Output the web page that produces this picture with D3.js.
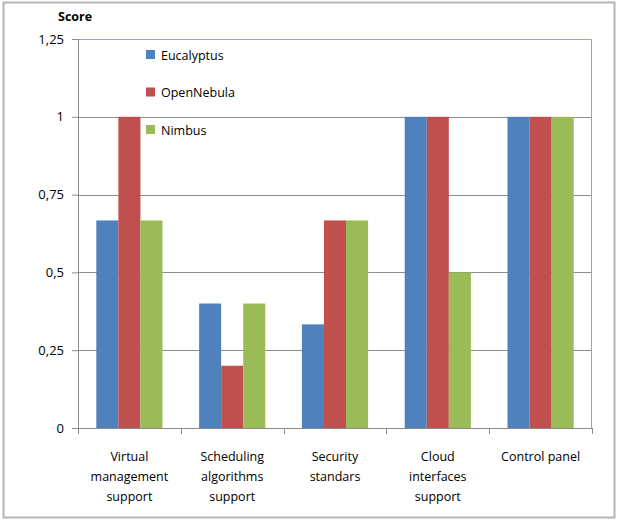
<!DOCTYPE html>
<html>
<head>
<meta charset="utf-8">
<script src="https://cdn.jsdelivr.net/npm/d3@7"></script>
<style>
  body { margin: 0; background: #fff; }
  svg text { font-family: "Open Sans", "DejaVu Sans", sans-serif; fill: #000; }
</style>
</head>
<body>
<svg id="chart" width="618" height="522"></svg>
<script>
// chart data
const categories = [
  ["Virtual", "management", "support"],
  ["Scheduling", "algorithms", "support"],
  ["Security", "standars"],
  ["Cloud", "interfaces", "support"],
  ["Control panel"]
];
const seriesNames = ["Eucalyptus", "OpenNebula", "Nimbus"];
const eucalyptus = [0.667, 0.4, 0.333, 1, 1];
const openNebula = [1, 0.2, 0.667, 1, 1];
const nimbus = [0.667, 0.4, 0.667, 0.5, 1];
const yTicks = [0, 0.25, 0.5, 0.75, 1, 1.25];
const yTickLabels = ["0", "0,25", "0,5", "0,75", "1", "1,25"];

const colors = ["#4F81BD", "#C0504D", "#9BBB59"];
const series = [eucalyptus, openNebula, nimbus];

const svg = d3.select("#chart");
const margin = { left: 78, right: 26, top: 39, bottom: 94 };
const width = 618 - margin.left - margin.right;
const height = 522 - margin.top - margin.bottom;

// outer frame
svg.append("rect")
  .attr("x", 3.5).attr("y", 2.5)
  .attr("width", 611).attr("height", 515)
  .attr("fill", "none").attr("stroke", "#b4b4b4").attr("stroke-width", 2);

const g = svg.append("g").attr("transform", `translate(${margin.left},${margin.top})`);

const x0 = d3.scaleBand().domain(d3.range(categories.length)).range([0, width]).paddingInner(0).paddingOuter(0);
const x1 = d3.scaleBand().domain(d3.range(series.length)).range([0, x0.bandwidth()]).paddingInner(0).paddingOuter(0.83);
const y = d3.scaleLinear().domain([0, 1.25]).range([height, 0]);

// gridlines
g.selectAll(".grid")
  .data(yTicks.filter(t => t > 0 && t < 1.25))
  .join("line")
  .attr("x1", 0).attr("x2", width)
  .attr("y1", d => Math.round(y(d)) + 0.5).attr("y2", d => Math.round(y(d)) + 0.5)
  .attr("stroke", "#8c8c8c").attr("stroke-width", 1);

// plot area border (top and right)
g.append("path")
  .attr("d", `M0,0.5H${width - 0.5}V${height}`)
  .attr("fill", "none").attr("stroke", "#8ea6c4").attr("stroke-width", 1);

// bars
series.forEach((vals, si) => {
  g.selectAll(".bar-" + si)
    .data(vals)
    .join("rect")
    .attr("x", (d, i) => x0(i) + x1(si))
    .attr("y", d => y(d))
    .attr("width", x1.bandwidth())
    .attr("height", d => y(0) - y(d))
    .attr("fill", colors[si]);
});

// y axis
const yAxis = g.append("g")
  .call(d3.axisLeft(y).tickValues(yTicks).tickSize(6).tickFormat((d, i) => yTickLabels[i]));
yAxis.select(".domain").attr("stroke", "#8c8c8c");
yAxis.selectAll(".tick line").attr("stroke", "#8c8c8c");
yAxis.selectAll("text").attr("x", -14).style("font-size", "13px").attr("fill", "#000");

// x axis with ticks at category boundaries
const xAxisG = g.append("g").attr("transform", `translate(0,${height})`);
xAxisG.append("line")
  .attr("x1", -6).attr("x2", width).attr("y1", 0.5).attr("y2", 0.5)
  .attr("stroke", "#8c8c8c");
xAxisG.selectAll(".xt")
  .data(d3.range(categories.length + 1))
  .join("line")
  .attr("x1", d => Math.round(d * x0.step()) + 0.5)
  .attr("x2", d => Math.round(d * x0.step()) + 0.5)
  .attr("y1", 0).attr("y2", 6)
  .attr("stroke", "#8c8c8c");

categories.forEach((lines, i) => {
  const t = xAxisG.append("text")
    .attr("text-anchor", "middle")
    .attr("x", x0(i) + x0.bandwidth() / 2)
    .attr("y", 33)
    .style("font-size", "12.5px");
  lines.forEach((ln, k) => {
    t.append("tspan").attr("x", x0(i) + x0.bandwidth() / 2).attr("dy", k === 0 ? 0 : 20).text(ln);
  });
});

// axis title
svg.append("text")
  .attr("x", 58).attr("y", 21)
  .style("font-size", "12.5px").style("font-weight", "bold")
  .text("Score");

// legend
const legend = svg.append("g").attr("transform", "translate(146,50)");
seriesNames.forEach((name, i) => {
  const row = legend.append("g").attr("transform", `translate(0,${i * 37.5})`);
  row.append("rect").attr("width", 9).attr("height", 9).attr("fill", colors[i]);
  row.append("text").attr("x", 15).attr("y", 9.5).style("font-size", "12.5px").text(name);
});
</script>
</body>
</html>
